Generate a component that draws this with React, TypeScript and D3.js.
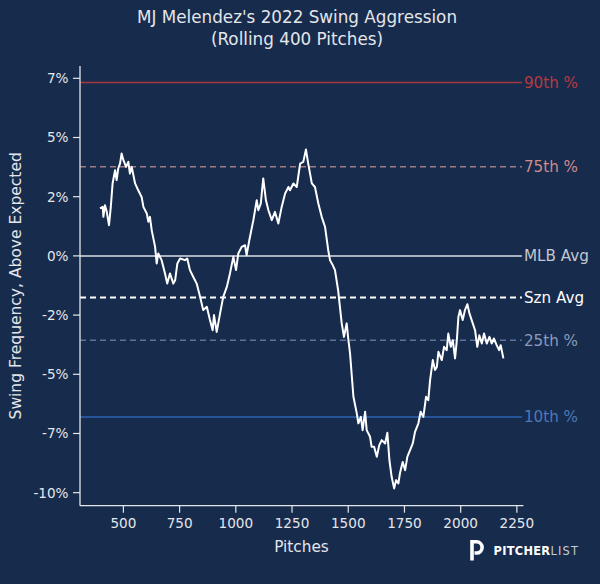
import React from "react";
import * as d3 from "d3";

// rolling 400-pitch swing rate above expected (%)
const pitches = [
  396, 408, 411, 418, 426, 436, 444, 452, 463, 470, 477, 485, 492, 500, 512, 522, 529, 537, 552, 566,
  581, 589, 604, 611, 618, 626, 641, 648, 655, 670, 685, 695, 707, 722, 730, 740, 752, 774, 784, 796,
  811, 826, 841, 855, 871, 885, 897, 903, 915, 930, 944, 960, 974, 989, 1001, 1011, 1026, 1041, 1048, 1060,
  1078, 1093, 1100, 1111, 1122, 1134, 1145, 1160, 1174, 1189, 1204, 1219, 1234, 1241, 1256, 1271, 1286, 1300, 1312, 1322,
  1338, 1352, 1367, 1382, 1397, 1411, 1419, 1431, 1441, 1455, 1463, 1471, 1481, 1493, 1500, 1508, 1523, 1538, 1545, 1556,
  1564, 1575, 1582, 1597, 1604, 1615, 1627, 1638, 1649, 1664, 1674, 1683, 1693, 1704, 1713, 1723, 1730, 1742, 1753, 1763,
  1775, 1787, 1797, 1812, 1822, 1834, 1846, 1856, 1864, 1876, 1886, 1894, 1901, 1916, 1926, 1938, 1945, 1956, 1965, 1975,
  1983, 1990, 1997, 2009, 2019, 2030, 2039, 2049, 2064, 2074, 2083, 2094, 2104, 2116, 2128, 2138, 2148, 2160, 2171, 2178,
  2190,
];

const swingAbove = [
  2.01, 2.07, 1.65, 2.14, 1.86, 1.3, 2.07, 3.06, 3.62, 3.2, 3.69, 3.9, 4.32, 4.04, 3.76, 3.97, 3.48, 3.76, 3.06, 2.77,
  2.49, 2.07, 1.79, 1.44, 1.65, 1.08, 0.38, -0.32, 0.1, -0.18, -0.74, -1.17, -0.74, -1.17, -1.03, -0.32, -0.11, -0.18, -0.11, -0.6,
  -0.89, -1.17, -1.73, -2.29, -2.15, -2.71, -3.14, -2.5, -3.21, -2.43, -1.73, -1.31, -0.74, -0.04, -0.6, 0.1, 0.38, 0.45, 0.03, 0.66,
  1.51, 2.35, 1.93, 2.21, 3.27, 2.35, 1.93, 1.51, 1.86, 1.37, 2.07, 2.63, 2.91, 2.77, 3.06, 2.91, 3.9, 3.97, 4.49, 3.9,
  3.06, 2.91, 2.21, 1.65, 1.22, 0.24, -0.18, -0.39, -0.6, -1.45, -2.15, -2.85, -3.42, -2.85, -3.49, -4.12, -5.95, -6.65, -7.07, -6.8,
  -7.36, -6.58, -7.36, -7.64, -8.06, -8.06, -8.48, -7.99, -7.78, -7.92, -7.47, -8.62, -9.33, -9.82, -9.47, -9.61, -9.18, -8.7, -9.05, -8.48,
  -8.2, -7.92, -7.43, -7.07, -6.58, -6.8, -5.95, -6.09, -5.25, -4.4, -4.82, -4.69, -4.05, -4.4, -3.84, -3.98, -3.28, -3.84, -3.56, -4.33,
  -3.56, -2.57, -2.29, -2.71, -2.29, -2.04, -2.43, -2.71, -3.14, -3.84, -3.35, -3.7, -3.28, -3.7, -3.42, -3.7, -3.49, -3.77, -3.98, -3.77,
  -4.33,
];

const xTicks = [500, 750, 1000, 1250, 1500, 1750, 2000, 2250];
const yTicks = [7.5, 5, 2.5, 0, -2.5, -5, -7.5, -10];
const yTickLabels = ["7%", "5%", "2%", "0%", "-2%", "-5%", "-7%", "-10%"];

const refNames = ["90th %", "75th %", "MLB Avg", "Szn Avg", "25th %", "10th %"];
const refValues = [7.32, 3.76, 0, -1.76, -3.56, -6.8];

const W = 600;
const H = 584;
const BG = "#172b4d";
const FG = "#e4e6ea";
const FONT = "'DejaVu Sans', sans-serif";

const refStyle = [
  { line: "#a5383e", text: "#b8393f", dash: "", w: 1.5 },
  { line: "#a07b82", text: "#cf8a8a", dash: "6,4", w: 1.5 },
  { line: "#a9b0bf", text: "#c3c7cf", dash: "", w: 2 },
  { line: "#ffffff", text: "#ffffff", dash: "6,4", w: 2 },
  { line: "#5d7398", text: "#8a9bbb", dash: "6,4", w: 1.5 },
  { line: "#2d63b2", text: "#4b78ba", dash: "", w: 1.5 },
];

export default function App() {
  const left = 80;
  const right = 523.4;
  const top = 66;
  const bottom = 505.7;

  const x = d3.scaleLinear().domain([307, 2279]).range([left, right]);
  const y = d3.scaleLinear().domain([-10.55, 8.02]).range([bottom, top]);

  const line = d3
    .line<number>()
    .x((_, i) => x(pitches[i]))
    .y((d) => y(d));

  return (
    <svg
      width={W}
      height={H}
      style={{ position: "absolute", left: 0, top: 0, display: "block", background: BG }}
      fontFamily={FONT}
    >
      <rect width={W} height={H} fill={BG} />

      <text x={297} y={23.3} textAnchor="middle" fill={FG} fontSize={16.8}>
        MJ Melendez's 2022 Swing Aggression
      </text>
      <text x={297} y={45} textAnchor="middle" fill={FG} fontSize={16.8}>
        (Rolling 400 Pitches)
      </text>

      {refValues.map((v, i) => (
        <g key={refNames[i]}>
          <line
            x1={left}
            x2={right - 1.5}
            y1={y(v)}
            y2={y(v)}
            stroke={refStyle[i].line}
            strokeWidth={refStyle[i].w}
            strokeDasharray={refStyle[i].dash || undefined}
          />
          <text
            x={right + 0.5}
            y={y(v)}
            dy="0.36em"
            fill={refStyle[i].text}
            fontSize={15.2}
          >
            {refNames[i]}
          </text>
        </g>
      ))}

      <path
        d={line(swingAbove) ?? ""}
        fill="none"
        stroke="#ffffff"
        strokeWidth={2}
        strokeLinejoin="round"
      />

      {/* axes */}
      <line x1={left} x2={left} y1={top} y2={bottom} stroke={FG} strokeWidth={1.3} />
      <line x1={left} x2={right} y1={bottom} y2={bottom} stroke={FG} strokeWidth={1.3} />

      {yTicks.map((t, i) => (
        <g key={t}>
          <line x1={left - 7} x2={left} y1={y(t)} y2={y(t)} stroke={FG} strokeWidth={1.2} />
          <text
            x={left - 11.5}
            y={y(t)}
            dy="0.36em"
            textAnchor="end"
            fill={FG}
            fontSize={13.6}
          >
            {yTickLabels[i]}
          </text>
        </g>
      ))}

      {xTicks.map((t) => (
        <g key={t}>
          <line x1={x(t)} x2={x(t)} y1={bottom} y2={bottom + 7} stroke={FG} strokeWidth={1.2} />
          <text x={x(t)} y={528.3} textAnchor="middle" fill={FG} fontSize={13.6}>
            {t}
          </text>
        </g>
      ))}

      <text x={301.5} y={552} textAnchor="middle" fill={FG} fontSize={15.3}>
        Pitches
      </text>
      <text
        transform={`translate(21,${(top + bottom) / 2}) rotate(-90)`}
        textAnchor="middle"
        fill={FG}
        fontSize={15.5}
      >
        Swing Frequency, Above Expected
      </text>

      {/* logo */}
      <g>
        <path
          d="M472 560.5 V541.8 H476.5 a5.6 5.6 0 0 1 0 11.2 H474.5"
          fill="none"
          stroke="#ffffff"
          strokeWidth={3.6}
        />
        <text x={493.5} y={555.2} fill="#ffffff" fontSize={11.4} fontWeight="bold" letterSpacing={0.3}>
          PITCHER
          <tspan fill="#c9ccd3" fontWeight="normal" letterSpacing={1.2}>
            LIST
          </tspan>
        </text>
      </g>
    </svg>
  );
}
